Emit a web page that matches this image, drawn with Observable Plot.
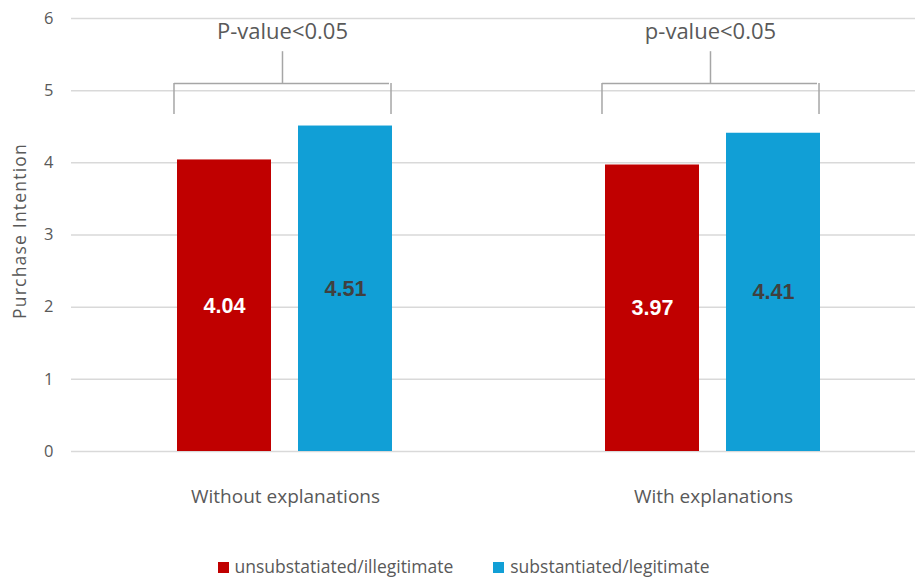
<!DOCTYPE html>
<html>
<head>
<meta charset="utf-8">
<script src="https://cdn.jsdelivr.net/npm/d3@7"></script>
<script src="https://cdn.jsdelivr.net/npm/@observablehq/plot@0.6"></script>
<style>
  html, body { margin: 0; padding: 0; background: #fff; }
  #wrap { position: relative; width: 915px; font-family: "Open Sans", "Liberation Sans", sans-serif; }
  #legend { display: flex; justify-content: center; gap: 40px; height: 37px; padding-top: 15px; box-sizing: border-box; align-items: flex-start; line-height: 22px; font-size: 17.5px; color: #595959; padding-left: 12px; }
  #legend span.sw { display: inline-block; width: 11px; height: 11px; margin-right: 6px; vertical-align: 0px; }
  #ylabel { position: absolute; left: 19px; top: 231px; transform: translate(-50%, -50%) rotate(-90deg); white-space: nowrap; font-size: 17.5px; letter-spacing: 1.2px; color: #595959; }
  [aria-label^="fx-axis"], [aria-label^="fx-axis"] text { font-size: 19px; }
  [aria-label^="y-axis"], [aria-label^="y-axis"] text { font-size: 16.5px; }
</style>
</head>
<body>
<div id="wrap">
  <div id="chart"></div>
  <div id="legend"></div>
  <div id="ylabel"></div>
</div>
<script>
// ---- data ----
const groups = ["Without explanations", "With explanations"];
const series = ["unsubstatiated/illegitimate", "substantiated/legitimate"];
const unsubValues = [4.04, 3.97];
const subValues = [4.51, 4.41];
const pLabels = ["P-value<0.05", "p-value<0.05"];
const yTicks = [0, 1, 2, 3, 4, 5, 6];
const yTitle = "Purchase Intention";
const colors = ["#C00000", "#119FD6"];
const labelColors = ["#ffffff", "#404040"];
// bracket annotation levels (in data units)
const bracketLow = 4.67, bracketHigh = 5.10, bracketTickTop = 5.54, pLabelLevel = 5.81;

const rows = [];
groups.forEach((g, i) => {
  rows.push({group: g, series: series[0], value: unsubValues[i]});
  rows.push({group: g, series: series[1], value: subValues[i]});
});
const brackets = groups.map((g, i) => ({group: g, label: pLabels[i]}));

const W = 915, H = 540;
const xRange = [176, 393];
const pad = 0.221;
const band = d3.scaleBand().domain(series).range(xRange).paddingInner(pad).paddingOuter(0);
const bw = band.bandwidth();
const step = band.step();

const chart = Plot.plot({
  width: W,
  height: H,
  marginLeft: 71,
  marginRight: -12,
  marginTop: 18,
  marginBottom: 89,
  style: {fontFamily: "'Open Sans', 'Liberation Sans', sans-serif", fontSize: "16px", color: "#595959", background: "#fff"},
  fx: {domain: groups, range: [71, 927], padding: 0, label: null, tickSize: 0, tickPadding: 38, axis: "bottom"},
  x: {domain: series, range: xRange, paddingInner: pad, paddingOuter: 0, axis: null},
  y: {domain: [0, 6], ticks: yTicks, tickSize: 0, tickPadding: 18, label: null, tickFormat: d3.format("d")},
  color: {domain: series, range: colors},
  marks: [
    Plot.ruleY(yTicks, {stroke: "#d9d9d9", strokeWidth: 1.5}),
    Plot.barY(rows, {fx: "group", x: "series", y: "value", fill: "series"}),
    Plot.text(rows, Plot.stackY({fx: "group", x: "series", y: "value", text: d => d.value.toFixed(2),
      fill: d => labelColors[series.indexOf(d.series)], fontWeight: "bold", fontSize: 21.5, fontFamily: "'Liberation Sans', Arial, sans-serif"})),
    // brackets
    Plot.ruleY(brackets, {fx: "group", x1: () => series[0], x2: () => series[1], y: () => bracketHigh, stroke: "#a6a6a6", strokeWidth: 1.5, dx: -3}),
    Plot.ruleX(brackets, {fx: "group", x: () => series[0], y1: () => bracketLow, y2: () => bracketHigh, dx: -bw / 2 - 3, stroke: "#a6a6a6", strokeWidth: 1.5}),
    Plot.ruleX(brackets, {fx: "group", x: () => series[1], y1: () => bracketLow, y2: () => bracketHigh, dx: bw / 2 - 2, stroke: "#a6a6a6", strokeWidth: 1.5}),
    Plot.ruleX(brackets, {fx: "group", x: () => series[0], y1: () => bracketHigh, y2: () => bracketTickTop, dx: step / 2 - 3, stroke: "#a6a6a6", strokeWidth: 1.5}),
    Plot.text(brackets, {fx: "group", x: () => series[0], y: () => pLabelLevel, text: "label", dx: step / 2 - 3, fontSize: 22, fill: "#595959"})
  ]
});
document.getElementById("chart").appendChild(chart);
document.getElementById("ylabel").textContent = yTitle;

const legend = document.getElementById("legend");
series.forEach((s, i) => {
  const item = document.createElement("div");
  item.innerHTML = `<span class="sw" style="background:${colors[i]}"></span>${s}`;
  legend.appendChild(item);
});
</script>
</body>
</html>
